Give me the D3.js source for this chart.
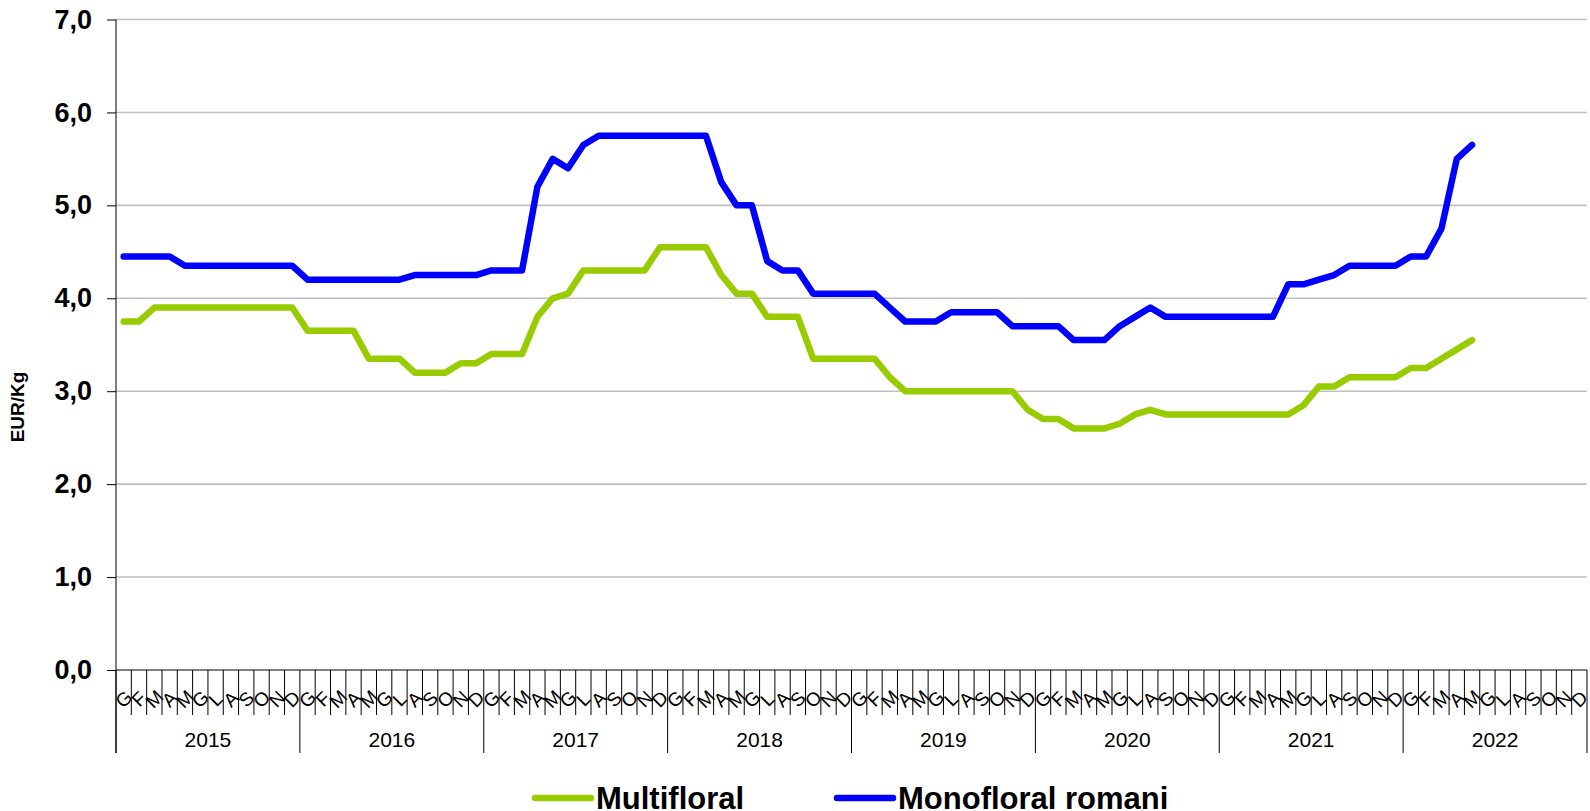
<!DOCTYPE html>
<html>
<head>
<meta charset="utf-8">
<script src="https://cdn.jsdelivr.net/npm/d3@7"></script>
<style>
  body { margin: 0; background: #fff; }
  svg { display: block; font-family: "Liberation Sans", Arial, sans-serif; }
</style>
</head>
<body>
<div id="chart"></div>
<script>
// Chart data
var years = [2015, 2016, 2017, 2018, 2019, 2020, 2021, 2022];
var monthLabels = ['G', 'F', 'M', 'A', 'M', 'G', 'L', 'A', 'S', 'O', 'N', 'D'];
var seriesNames = ['Multifloral', 'Monofloral romani'];
var seriesColors = ['#99cc00', '#0000ff'];
var yTicks = [0, 1, 2, 3, 4, 5, 6, 7];

// Multifloral, monthly from Jan 2015 to May 2022
var multifloral = [
    3.75, 3.75, 3.90, 3.90, 3.90, 3.90, 3.90, 3.90, 3.90, 3.90, 3.90, 3.90,
    3.65, 3.65, 3.65, 3.65, 3.35, 3.35, 3.35, 3.20, 3.20, 3.20, 3.30, 3.30,
    3.40, 3.40, 3.40, 3.80, 4.00, 4.05, 4.30, 4.30, 4.30, 4.30, 4.30, 4.55,
    4.55, 4.55, 4.55, 4.25, 4.05, 4.05, 3.80, 3.80, 3.80, 3.35, 3.35, 3.35,
    3.35, 3.35, 3.15, 3.00, 3.00, 3.00, 3.00, 3.00, 3.00, 3.00, 3.00, 2.80,
    2.70, 2.70, 2.60, 2.60, 2.60, 2.65, 2.75, 2.80, 2.75, 2.75, 2.75, 2.75,
    2.75, 2.75, 2.75, 2.75, 2.75, 2.85, 3.05, 3.05, 3.15, 3.15, 3.15, 3.15,
    3.25, 3.25, 3.35, 3.45, 3.55
];

// Monofloral romani, monthly from Jan 2015 to May 2022
var monofloral = [
    4.45, 4.45, 4.45, 4.45, 4.35, 4.35, 4.35, 4.35, 4.35, 4.35, 4.35, 4.35,
    4.20, 4.20, 4.20, 4.20, 4.20, 4.20, 4.20, 4.25, 4.25, 4.25, 4.25, 4.25,
    4.30, 4.30, 4.30, 5.20, 5.50, 5.40, 5.65, 5.75, 5.75, 5.75, 5.75, 5.75,
    5.75, 5.75, 5.75, 5.25, 5.00, 5.00, 4.40, 4.30, 4.30, 4.05, 4.05, 4.05,
    4.05, 4.05, 3.90, 3.75, 3.75, 3.75, 3.85, 3.85, 3.85, 3.85, 3.70, 3.70,
    3.70, 3.70, 3.55, 3.55, 3.55, 3.70, 3.80, 3.90, 3.80, 3.80, 3.80, 3.80,
    3.80, 3.80, 3.80, 3.80, 4.15, 4.15, 4.20, 4.25, 4.35, 4.35, 4.35, 4.35,
    4.45, 4.45, 4.75, 5.50, 5.65
];

// Dimensions
var width = 1590, height = 811;
var plotLeft = 116, plotRight = 1587, plotTop = 19.5, plotBottom = 670;

var months = d3.range(years.length * 12);

// Scales
var x = d3.scaleBand().domain(months).range([plotLeft, plotRight]).paddingInner(0).paddingOuter(0);
var y = d3.scaleLinear().domain([0, 7]).range([plotBottom, plotTop]);
var bw = x.bandwidth();

var svg = d3.select('#chart')
    .append('svg')
    .attr('width', width)
    .attr('height', height);

// Gridlines
svg.append('g')
    .selectAll('line')
    .data(yTicks.filter(function(d) { return d > 0; }))
    .enter()
    .append('line')
        .attr('x1', plotLeft)
        .attr('x2', plotRight)
        .attr('y1', function(d) { return y(d); })
        .attr('y2', function(d) { return y(d); })
        .attr('stroke', '#c0c0c0')
        .attr('stroke-width', 1.6);

// Y axis
var yAxis = d3.axisLeft(y)
    .tickValues(yTicks)
    .tickSize(9)
    .tickPadding(15)
    .tickSizeOuter(0)
    .tickFormat(function(d) { return d3.format('.1f')(d).replace('.', ','); });

var gy = svg.append('g')
    .attr('transform', 'translate(' + plotLeft + ',0)')
    .call(yAxis);
gy.select('.domain').remove();
gy.selectAll('.tick line').attr('stroke', '#000');
gy.selectAll('text')
    .attr('fill', '#000')
    .style('font-size', '27px')
    .style('font-weight', 'bold');

// Axis lines
svg.append('line')
    .attr('x1', plotLeft).attr('x2', plotLeft)
    .attr('y1', plotTop).attr('y2', 753)
    .attr('stroke', '#000');
svg.append('line')
    .attr('x1', plotLeft).attr('x2', plotRight)
    .attr('y1', plotBottom).attr('y2', plotBottom)
    .attr('stroke', '#000');

// Month boundaries (long at year change)
svg.append('g')
    .selectAll('line')
    .data(d3.range(months.length + 1))
    .enter()
    .append('line')
        .attr('x1', function(i) { return i < months.length ? x(i) : plotRight; })
        .attr('x2', function(i) { return i < months.length ? x(i) : plotRight; })
        .attr('y1', plotBottom)
        .attr('y2', function(i) { return i % 12 === 0 ? 753 : 715; })
        .attr('stroke', '#000');

// Month labels
var xAxis = d3.axisBottom(x)
    .tickSize(0)
    .tickFormat(function(i) { return monthLabels[i % 12]; });

var gx = svg.append('g')
    .attr('transform', 'translate(0,' + plotBottom + ')')
    .call(xAxis);
gx.select('.domain').remove();
gx.selectAll('text')
    .attr('y', 0)
    .attr('dy', '0.35em')
    .attr('fill', '#000')
    .attr('transform', 'translate(0,29) rotate(-45)')
    .style('font-size', '19px');

// Year labels
svg.append('g')
    .selectAll('text')
    .data(years)
    .enter()
    .append('text')
        .attr('x', function(d, i) { return x(i * 12) + bw * 6; })
        .attr('y', 746.5)
        .attr('text-anchor', 'middle')
        .style('font-size', '21px')
        .text(function(d) { return d; });

// Y axis title
svg.append('text')
    .attr('transform', 'translate(24,407) rotate(-90)')
    .attr('text-anchor', 'middle')
    .style('font-size', '19px')
    .style('font-weight', 'bold')
    .text('EUR/Kg');

// Lines
var line = d3.line()
    .x(function(d, i) { return x(i) + bw / 2; })
    .y(function(d) { return y(d); });

[multifloral, monofloral].forEach(function(values, k) {
    svg.append('path')
        .attr('fill', 'none')
        .attr('stroke', seriesColors[k])
        .attr('stroke-width', 6.5)
        .attr('stroke-linejoin', 'round')
        .attr('stroke-linecap', 'round')
        .attr('d', line(values));
});

// Legend
var legendX = [535, 837];
var legend = svg.append('g')
    .selectAll('g')
    .data(seriesNames)
    .enter()
    .append('g')
        .attr('transform', function(d, i) { return 'translate(' + legendX[i] + ',798)'; });

legend.append('line')
    .attr('x1', 0).attr('x2', 56)
    .attr('y1', 0).attr('y2', 0)
    .attr('stroke', function(d, i) { return seriesColors[i]; })
    .attr('stroke-width', 6.5)
    .attr('stroke-linecap', 'round');

legend.append('text')
    .attr('x', 61)
    .attr('y', 11)
    .style('font-size', '31px')
    .style('font-weight', 'bold')
    .text(function(d) { return d; });
</script>
</body>
</html>
